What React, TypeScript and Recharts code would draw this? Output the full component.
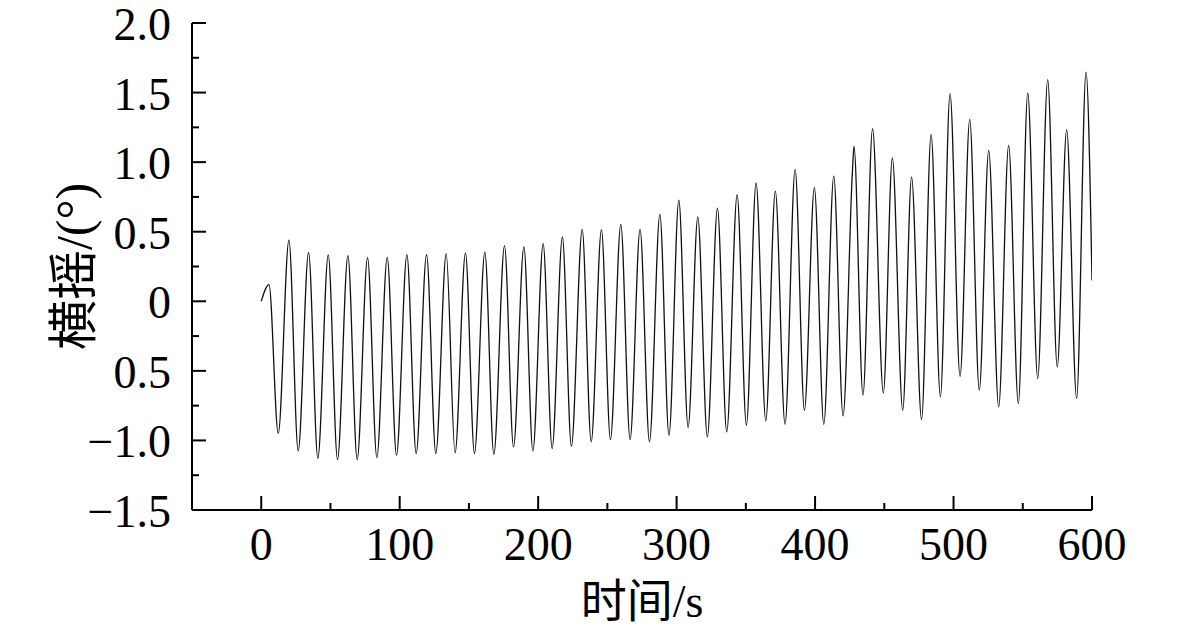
import React from 'react';
import { LineChart, Line, XAxis, YAxis, Label } from 'recharts';

const timeS = [
  0, 5.6, 12.3, 20.0, 26.7, 34.2, 40.9, 48.4, 55.1, 62.6, 69.3, 76.8, 83.5, 91.0, 97.7,
  105.2, 111.9, 119.4, 126.1, 133.6, 140.0, 147.5, 154.0, 161.5, 168.0, 175.7, 182.2,
  189.7, 196.2, 203.6, 210.1, 217.5, 224.0, 231.8, 238.3, 245.7, 252.2, 259.7, 266.4,
  273.6, 280.4, 287.9, 294.5, 301.6, 308.3, 315.3, 322.2, 329.5, 336.2, 343.7, 350.4,
  357.4, 364.4, 371.3, 378.3, 385.6, 392.3, 399.5, 406.3, 413.5, 420.2, 426.9, 428.1,
  434.6, 441.5, 449.3, 455.8, 463.3, 469.7, 476.9, 483.8, 490.5, 497.5, 504.7, 511.7,
  518.6, 525.4, 532.6, 539.8, 546.8, 553.6, 560.8, 568.0, 574.9, 581.7, 588.9, 595.7, 600,
];

const rollDeg = [
  0, 0.12, -0.95, 0.44, -1.075, 0.35, -1.128, 0.333, -1.137, 0.328, -1.137, 0.314, -1.123,
  0.316, -1.106, 0.335, -1.094, 0.335, -1.094, 0.343, -1.09, 0.347, -1.094, 0.354, -1.1,
  0.4, -1.047, 0.39, -1.075, 0.414, -1.058, 0.462, -1.042, 0.517, -1.01, 0.515, -0.994,
  0.553, -0.994, 0.517, -1.01, 0.625, -0.963, 0.726, -0.907, 0.606, -0.975, 0.67, -0.939,
  0.767, -0.891, 0.85, -0.86, 0.792, -0.884, 0.948, -0.783, 0.817, -0.884, 0.9, -0.824,
  0.92, 1.113, -0.675, 1.24, -0.659, 1.03, -0.783, 0.893, -0.85, 1.2, -0.687, 1.492,
  -0.539, 1.307, -0.639, 1.085, -0.759, 1.12, -0.735, 1.497, -0.555, 1.593, -0.472, 1.233,
  -0.699, 1.647, 0.15,
];

const xMajorTicks = [0, 100, 200, 300, 400, 500, 600];
const xTickLabels = ['0', '100', '200', '300', '400', '500', '600'];
const xMinorTicks = [50, 150, 250, 350, 450, 550];

const yMajorTicks = [-1.5, -1, -0.5, 0, 0.5, 1, 1.5, 2];
const yTickLabels = ['\u22121.5', '\u22121.0', '0.5', '0', '0.5', '1.0', '1.5', '2.0'];
const yMinorTicks = [-1.25, -0.75, -0.25, 0.25, 0.75, 1.25, 1.75];

const xTitle = '时间/s';
const yTitle = '横摇/(°)';

const data = timeS.map((t, i) => ({ t, v: rollDeg[i] }));

const FONT = "'Liberation Serif', 'Noto Sans CJK SC', serif";
const FS = 46;

const near = (a: number, b: number) => Math.abs(a - b) < 1e-6;

const XTick = (props: any) => {
  const { x, y, payload } = props;
  const idx = xMajorTicks.findIndex((m) => near(m, payload.value));
  const major = idx >= 0;
  return (
    <g>
      <line x1={x} x2={x} y1={y} y2={y - (major ? 14 : 7)} stroke="#000" strokeWidth={2} />
      {major && (
        <text x={x} y={y + 50} textAnchor="middle" fontSize={FS} fontFamily={FONT} fill="#000">
          {xTickLabels[idx]}
        </text>
      )}
    </g>
  );
};

const YTick = (props: any) => {
  const { x, y, payload } = props;
  const idx = yMajorTicks.findIndex((m) => near(m, payload.value));
  const major = idx >= 0;
  return (
    <g>
      <line x1={x} x2={x + (major ? 14 : 7)} y1={y} y2={y} stroke="#000" strokeWidth={2} />
      {major && (
        <text x={x - 21} y={y + 17} textAnchor="end" fontSize={FS} fontFamily={FONT} fill="#000">
          {yTickLabels[idx]}
        </text>
      )}
    </g>
  );
};

const XTitle = (props: any) => {
  const vb = props.viewBox;
  return (
    <text x={vb.x + vb.width / 2} y={vb.y + 107} textAnchor="middle" fontSize={FS} fontFamily={FONT} fill="#000">
      {xTitle}
    </text>
  );
};

const YTitle = (props: any) => {
  const vb = props.viewBox;
  const cx = vb.x + 74;
  const cy = vb.y + vb.height / 2;
  return (
    <text
      x={cx}
      y={cy}
      textAnchor="middle"
      dominantBaseline="central"
      transform={`rotate(-90, ${cx}, ${cy})`}
      fontSize={50}
      fontFamily={FONT}
      fill="#000"
    >
      {yTitle}
    </text>
  );
};

export default function App() {
  return (
    <div style={{ position: 'absolute', left: 0, top: 0, background: '#fff' }}>
      <LineChart
        width={1181}
        height={639}
        data={data}
        margin={{ top: 23, right: 89, bottom: 0, left: 0 }}
      >
        <XAxis
          dataKey="t"
          type="number"
          domain={[-50, 600]}
          ticks={[...xMajorTicks, ...xMinorTicks].sort((a, b) => a - b)}
          interval={0}
          tickSize={0}
          tickMargin={0}
          tick={<XTick />}
          tickLine={false}
          axisLine={{ stroke: '#000', strokeWidth: 2 }}
          height={129}
          allowDataOverflow
        >
          <Label content={<XTitle />} />
        </XAxis>
        <YAxis
          type="number"
          domain={[-1.5, 2]}
          ticks={[...yMajorTicks, ...yMinorTicks].sort((a, b) => a - b)}
          interval={0}
          tickSize={0}
          tickMargin={0}
          tick={<YTick />}
          tickLine={false}
          axisLine={{ stroke: '#000', strokeWidth: 2 }}
          width={192}
          allowDataOverflow
        >
          <Label content={<YTitle />} />
        </YAxis>
        <Line
          type="monotone"
          dataKey="v"
          stroke="#111"
          strokeWidth={1.3}
          dot={false}
          isAnimationActive={false}
        />
      </LineChart>
    </div>
  );
}
